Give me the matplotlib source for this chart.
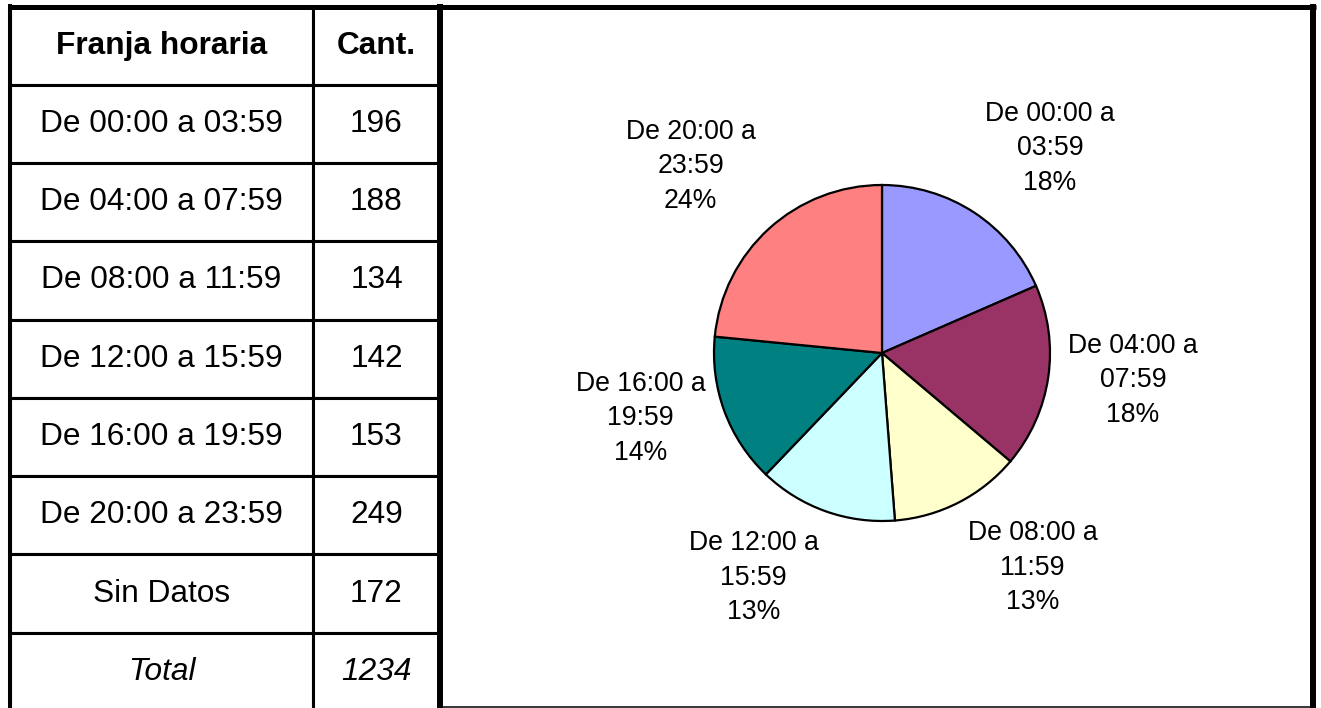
import numpy as np
import matplotlib
matplotlib.use("Agg")
import matplotlib.pyplot as plt

plt.rcParams['font.family'] = ['Liberation Sans', 'DejaVu Sans']

# table data
franjas = ["De 00:00 a 03:59", "De 04:00 a 07:59", "De 08:00 a 11:59",
           "De 12:00 a 15:59", "De 16:00 a 19:59", "De 20:00 a 23:59"]
cantidades = [196, 188, 134, 142, 153, 249]
sin_datos = 172
total = 1234

# pie data (sin "Sin Datos")
pie_labels = ["De 00:00 a\n03:59", "De 04:00 a\n07:59", "De 08:00 a\n11:59",
              "De 12:00 a\n15:59", "De 16:00 a\n19:59", "De 20:00 a\n23:59"]
pct_labels = ["18%", "18%", "13%", "13%", "14%", "24%"]
colores = ["#9999FF", "#993366", "#FFFFCC", "#CCFFFF", "#008080", "#FF8080"]

W, H = 1321, 708
fig = plt.figure(figsize=(W / 100, H / 100), dpi=100)

# background axes in pixel coords, for the frame lines
bg = fig.add_axes([0, 0, 1, 1])
bg.set_xlim(0, W)
bg.set_ylim(H, 0)
bg.axis('off')

# table
filas = [["Franja horaria", "Cant."]]
filas += [[f, str(c)] for f, c in zip(franjas, cantidades)]
filas += [["Sin Datos", str(sin_datos)], ["Total", str(total)]]

tbl = bg.table(cellText=filas, cellLoc='center', colWidths=[303, 127],
               bbox=[10 / W, (H - 711) / H, 430 / W, 704.5 / H])
tbl.auto_set_font_size(False)
tbl.set_fontsize(22.8)
n_filas = len(filas)
for (r, c), cell in tbl.get_celld().items():
    cell.set_linewidth(2.2)
    cell.set_edgecolor('black')
    cell.get_text().set_va('center')
    if r == 0:
        cell.get_text().set_fontweight('bold')
    if r == n_filas - 1:
        cell.get_text().set_fontstyle('italic')

# frame lines
bg.plot([8, 1316], [6.5, 6.5], color='black', lw=3.6, zorder=10, solid_capstyle='butt')
bg.plot([10, 10], [4, H], color='black', lw=2.9, zorder=10, solid_capstyle='butt')
bg.plot([440, 440], [4, H], color='black', lw=4.3, zorder=10, solid_capstyle='butt')
bg.plot([1313, 1313], [4, H], color='black', lw=4.3, zorder=10, solid_capstyle='butt')
bg.plot([440, 1313], [707, 707], color='black', lw=1.1, zorder=10, solid_capstyle='butt')

# pie, center (882, 353), radius 168 px
cx, cy, rad = 882, 353, 168
half = 1.25 * rad
ax = fig.add_axes([(cx - half) / W, (H - cy - half) / H, 2 * half / W, 2 * half / H])
wedges, _ = ax.pie(cantidades, colors=colores, startangle=90, counterclock=False,
                   wedgeprops=dict(edgecolor='black', linewidth=1.6))
ax.set_xlim(-1.25, 1.25)
ax.set_ylim(-1.25, 1.25)

for w, lab, pct in zip(wedges, pie_labels, pct_labels):
    ang = np.deg2rad((w.theta1 + w.theta2) / 2)
    x, y = np.cos(ang), np.sin(ang)
    ha = 'left' if x > 0 else 'right'
    if y > 0.5:
        va = 'bottom'
    elif y < -0.5:
        va = 'top'
    else:
        va = 'center'
    ax.text(1.12 * x, 1.12 * y, lab + "\n" + pct, ha=ha, va=va,
            multialignment='center', fontsize=19.2, linespacing=1.42,
            clip_on=False)

fig.savefig("out.png", dpi=100)
